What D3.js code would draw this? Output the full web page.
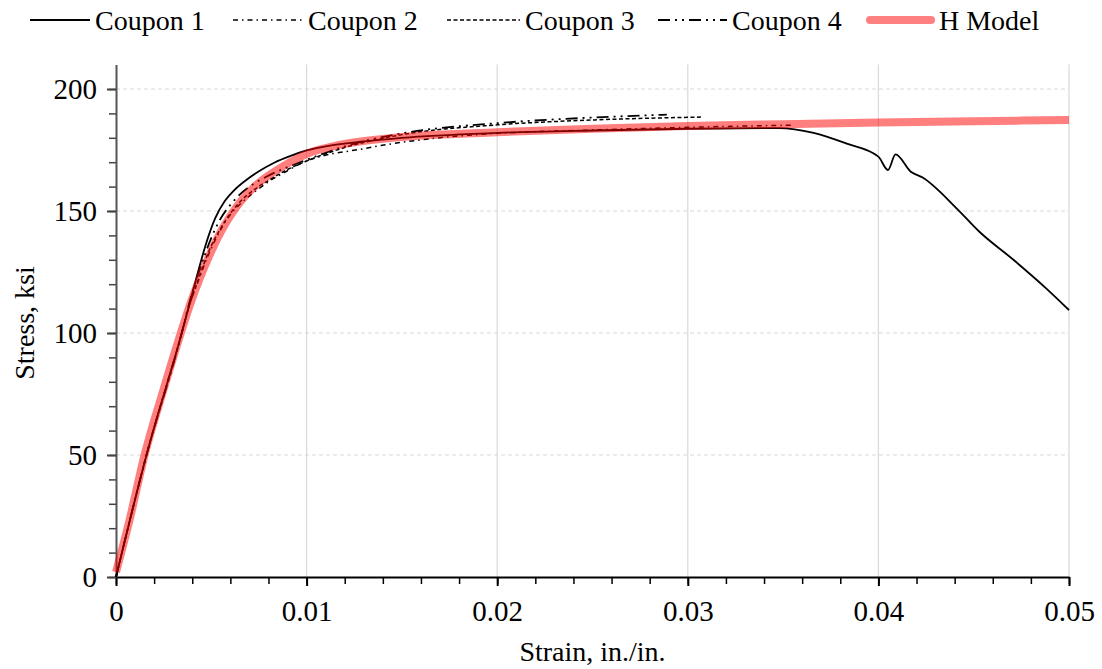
<!DOCTYPE html>
<html>
<head>
<meta charset="utf-8">
<script src="https://cdn.jsdelivr.net/npm/d3@7"></script>
<style>
  body { margin: 0; background: #fff; }
  text { font-family: "Liberation Serif", "Times New Roman", serif; fill: #000; }
</style>
</head>
<body>
<div id="graph"></div>
<script>
// stress-strain curves, strain in in./in., stress in ksi
const coupon1 = [
  [0, 0], [0.0016, 50], [0.00345, 100], [0.0042, 122], [0.0047, 136], [0.0052, 147],
  [0.0057, 154], [0.0062, 158.5], [0.0068, 162.5], [0.0075, 166.3], [0.0083, 169.8],
  [0.0092, 172.7], [0.010, 174.8], [0.011, 176.5], [0.013, 178.5], [0.015, 180],
  [0.02, 182], [0.025, 183], [0.03, 183.7], [0.0348, 184], [0.0366, 182], [0.0383, 177.7],
  [0.0400, 172.3], [0.0405, 166.8], [0.0409, 173.2], [0.0417, 166.1], [0.0423, 163.8],
  [0.0441, 151.1], [0.0453, 141.5], [0.0471, 129.9], [0.0488, 118.3], [0.05, 109.4]
];
const coupon2 = [
  [0, 0], [0.0016, 50], [0.00345, 100], [0.0038, 110], [0.0043, 121], [0.0049, 133],
  [0.0055, 142.5], [0.006, 148.5], [0.0066, 153.5], [0.0073, 158], [0.008, 162],
  [0.009, 166.5], [0.0097, 169.5], [0.0131, 175.7], [0.0167, 179.8], [0.0195, 181.6],
  [0.025, 183.2], [0.03, 184.3], [0.0356, 185.2]
];
const coupon3 = [
  [0, 0], [0.0016, 50], [0.00345, 100], [0.0038, 110], [0.0043, 121.5], [0.0049, 134],
  [0.0055, 143], [0.006, 149], [0.0066, 154.5], [0.0073, 159], [0.008, 162.5],
  [0.009, 167], [0.01, 170.5], [0.012, 176], [0.015, 181.3], [0.02, 185.3],
  [0.025, 187.3], [0.0307, 188.5]
];
const coupon4 = [
  [0, 0], [0.0016, 50], [0.00345, 100], [0.0038, 111], [0.0044, 126], [0.005, 139],
  [0.0055, 147], [0.006, 152.5], [0.0066, 157.5], [0.0073, 161.5], [0.008, 164.5],
  [0.009, 168], [0.01, 171], [0.012, 176.5], [0.015, 181.8], [0.02, 186],
  [0.025, 188.3], [0.0289, 189.5]
];
const hModel = [
  [0, 2], [0.0007, 23], [0.0015, 50], [0.0025, 77], [0.0034, 100], [0.0039, 112],
  [0.0044, 122.5], [0.005, 133.5], [0.0055, 141.5], [0.006, 148], [0.0066, 154.5],
  [0.0072, 159.5], [0.008, 164.5], [0.0088, 168.5], [0.0095, 171.5], [0.0102, 174],
  [0.011, 175.8], [0.012, 177.5], [0.015, 180.3], [0.02, 182.3], [0.025, 183.7],
  [0.03, 184.8], [0.035, 185.6], [0.04, 186.3], [0.045, 186.8], [0.05, 187.3]
];

const xTicks = [0, 0.01, 0.02, 0.03, 0.04, 0.05];
const yTicks = [0, 50, 100, 150, 200];
const legendNames = ["Coupon 1", "Coupon 2", "Coupon 3", "Coupon 4", "H Model"];

const width = 1102, height = 669;

let svg = d3.select("#graph")
    .append("svg")
    .attr("width", width)
    .attr("height", height);

const x = d3.scaleLinear().domain([0, 0.05]).range([116, 1069]);
const y = d3.scaleLinear().domain([0, 210]).range([577, 64.6]);

// gridlines
svg.append("g")
    .selectAll("line")
    .data(xTicks.slice(1))
    .enter().append("line")
    .attr("x1", d => x(d)).attr("x2", d => x(d))
    .attr("y1", y(0)).attr("y2", y(210))
    .style("stroke", "#d9d9d9")
    .style("stroke-width", 1.2);

svg.append("g")
    .selectAll("line")
    .data(yTicks.slice(1))
    .enter().append("line")
    .attr("x1", x(0)).attr("x2", x(0.05))
    .attr("y1", d => y(d)).attr("y2", d => y(d))
    .style("stroke", "#d9d9d9")
    .style("stroke-width", 1.2)
    .style("stroke-dasharray", "4,3");

// minor ticks
svg.append("g")
    .attr("transform", "translate(0," + y(0) + ")")
    .call(d3.axisBottom(x).tickValues(d3.range(0, 26).map(i => i * 0.002)).tickSize(7).tickFormat(""))
    .call(g => g.select(".domain").remove())
    .selectAll("line").style("stroke", "#000").style("stroke-width", 1.5);

svg.append("g")
    .attr("transform", "translate(" + x(0) + ",0)")
    .call(d3.axisLeft(y).tickValues(d3.range(0, 21).map(i => i * 10)).tickSize(7).tickFormat(""))
    .call(g => g.select(".domain").remove())
    .selectAll("line").style("stroke", "#444").style("stroke-width", 1.5);

// major axes
let xAxis = svg.append("g")
    .attr("transform", "translate(0," + y(0) + ")")
    .call(d3.axisBottom(x).tickValues(xTicks).tickSize(9).tickSizeOuter(0).tickPadding(14)
        .tickFormat(d => d === 0 ? "0" : d3.format(".2f")(d)));
xAxis.select(".domain").style("stroke", "#000").style("stroke-width", 2);
xAxis.selectAll("line").style("stroke", "#000").style("stroke-width", 2);
xAxis.selectAll("text").style("font-size", "29px").style("font-family", "Liberation Serif");

let yAxis = svg.append("g")
    .attr("transform", "translate(" + x(0) + ",0)")
    .call(d3.axisLeft(y).tickValues(yTicks).tickSize(9).tickSizeOuter(0).tickPadding(10));
yAxis.select(".domain").style("stroke", "#555").style("stroke-width", 2);
yAxis.selectAll("line").style("stroke", "#444").style("stroke-width", 2);
yAxis.selectAll("text").style("font-size", "29px").style("font-family", "Liberation Serif");

// axis titles
svg.append("text")
    .attr("x", (x(0) + x(0.05)) / 2)
    .attr("y", 661)
    .attr("text-anchor", "middle")
    .style("font-size", "28px")
    .text("Strain, in./in.");

svg.append("text")
    .attr("transform", "translate(34," + 323 + ") rotate(-90)")
    .attr("text-anchor", "middle")
    .style("font-size", "28px")
    .text("Stress, ksi");

// series
const line = d3.line()
    .x(d => x(d[0]))
    .y(d => y(d[1]))
    .curve(d3.curveMonotoneX);

const styles = [
    {data: coupon1, color: "#000", w: 1.8, dash: null},
    {data: coupon2, color: "#000", w: 1.5, dash: "5,4,1.5,4"},
    {data: coupon3, color: "#000", w: 1.5, dash: "4,2.5"},
    {data: coupon4, color: "#000", w: 1.8, dash: "12,5,2,5,2,5"},
    {data: hModel, color: "rgba(255,0,0,0.5)", w: 8, dash: null}
];

svg.append("g")
    .selectAll("path")
    .data(styles)
    .enter().append("path")
    .attr("d", d => line(d.data))
    .style("fill", "none")
    .style("stroke", d => d.color)
    .style("stroke-width", d => d.w)
    .style("stroke-dasharray", d => d.dash)
    .style("stroke-linejoin", "round");

// legend
const legendX = [30, 233, 447, 658, 866];
const legendText = [95, 308, 525, 732, 939];

let legend = svg.append("g")
    .selectAll("g")
    .data(styles)
    .enter().append("g");

legend.append("line")
    .attr("x1", (d, i) => legendX[i] + (i === 4 ? 4 : 0))
    .attr("x2", (d, i) => legendText[i] - (i === 4 ? 8 : 5))
    .attr("y1", 20).attr("y2", 20)
    .style("stroke", (d, i) => i === 4 ? "#ff8080" : d.color)
    .style("stroke-width", d => d.w)
    .style("stroke-linecap", (d, i) => i === 4 ? "round" : "butt")
    .style("stroke-dasharray", d => d.dash);

legend.append("text")
    .attr("x", (d, i) => legendText[i])
    .attr("y", 30)
    .style("font-size", "28px")
    .text((d, i) => legendNames[i]);
</script>
</body>
</html>
